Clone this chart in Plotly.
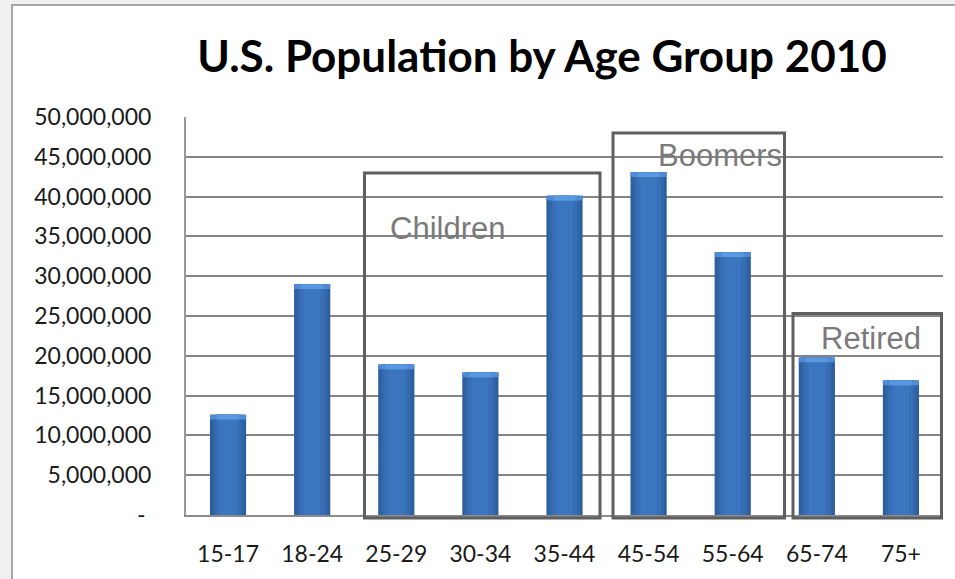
import plotly.graph_objects as go

age_groups = ["15-17", "18-24", "25-29", "30-34", "35-44", "45-54", "55-64", "65-74", "75+"]
population = [12600000, 29000000, 18900000, 17900000, 40100000, 43050000, 33000000, 19800000, 16900000]
y_tick_vals = [0, 5000000, 10000000, 15000000, 20000000, 25000000, 30000000, 35000000, 40000000, 45000000, 50000000]
y_tick_text = ["-\u00a0", "5,000,000", "10,000,000", "15,000,000", "20,000,000", "25,000,000",
               "30,000,000", "35,000,000", "40,000,000", "45,000,000", "50,000,000"]
group_labels = ["Children", "Boomers", "Retired"]

W, H = 955, 579
L, R, T, B = 186, 12, 117, 64
pw, ph = W - L - R, H - T - B


def px_x(p):
    return (p - L) / pw


def px_y(p):
    return (H - B - p) / ph


fig = go.Figure()

layers = [(0.43, "#2c5d9c"), (0.37, "#3166a8"), (0.30, "#376eb5"), (0.20, "#3b75bf")]
for w, c in layers:
    fig.add_trace(go.Bar(x=age_groups, y=population, width=w, marker=dict(color=c, line=dict(width=0)),
                         hoverinfo="skip", showlegend=False))

bevel = 600000
fig.add_trace(go.Bar(x=age_groups, y=[bevel] * len(population), base=[v - bevel for v in population],
                     width=0.43, marker=dict(color="#4f8bd6", line=dict(width=0)),
                     hoverinfo="skip", showlegend=False))
fig.add_trace(go.Bar(x=age_groups, y=[bevel] * len(population), base=[v - bevel for v in population],
                     width=0.26, marker=dict(color="#5a98e0", line=dict(width=0)),
                     hoverinfo="skip", showlegend=False))

shapes = [
    dict(type="rect", xref="paper", yref="paper", x0=px_x(12), x1=px_x(965), y0=px_y(590), y1=px_y(5),
         fillcolor="white", line=dict(color="#a6a6a6", width=2), layer="below"),
]
boxes = [(364.5, 600, 173), (613, 784.5, 133), (793, 941.5, 313.5)]
for x0, x1, yt in boxes:
    shapes.append(dict(type="rect", xref="paper", yref="paper", x0=px_x(x0), x1=px_x(x1),
                       y0=px_y(518), y1=px_y(yt), line=dict(color="#5f5f5f", width=3),
                       fillcolor="rgba(0,0,0,0)", layer="above"))

label_pos = [(447, 228), (720, 155), (871, 338)]
annotations = []
for (cx, cy), txt in zip(label_pos, group_labels):
    annotations.append(dict(text=txt, xref="paper", yref="paper", x=px_x(cx), y=px_y(cy),
                            xanchor="center", yanchor="middle", showarrow=False,
                            font=dict(family="Liberation Sans, Arial", size=31, color="#7a7a7a")))

fig.update_layout(
    width=W, height=H,
    margin=dict(l=L, r=R, t=T, b=B, pad=0),
    paper_bgcolor="#f0f0f0",
    plot_bgcolor="white",
    barmode="overlay",
    shapes=shapes,
    annotations=annotations,
    title=dict(text="<b>U.S. Population by Age Group 2010</b>", x=542 / W, xanchor="center",
               y=1 - 57 / H, yanchor="middle", xref="container", yref="container",
               font=dict(family="Lato", size=44, color="#000000")),
    xaxis=dict(type="category", showgrid=False, showline=True, linecolor="#8c8c8c", linewidth=2,
               ticks="", ticklabelstandoff=17,
               tickfont=dict(family="Lato", size=23, color="#1a1a1a")),
    yaxis=dict(range=[0, 50000000], tickvals=y_tick_vals, ticktext=y_tick_text,
               showgrid=True, gridcolor="#858585", gridwidth=1.5, zeroline=False,
               showline=True, linecolor="#9a9a9a", linewidth=2, ticks="", ticklabelstandoff=28,
               tickfont=dict(family="Lato", size=23, color="#1a1a1a")),
)

fig.write_html("out.html")
